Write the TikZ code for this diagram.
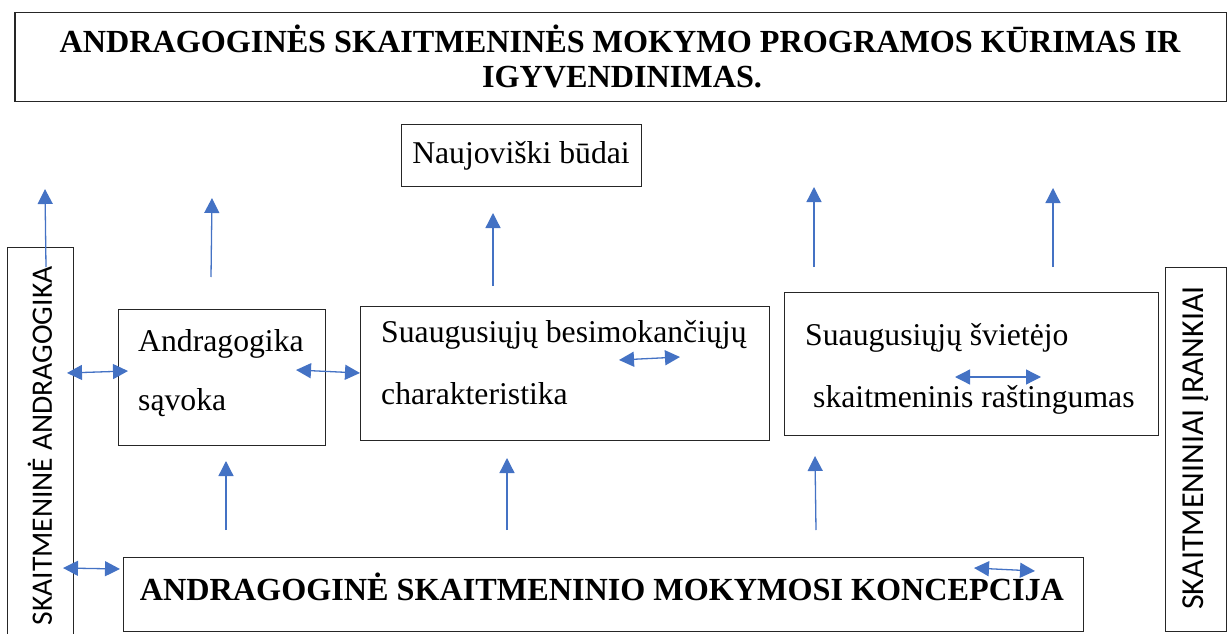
\documentclass[tikz,border=0pt]{standalone}
\usepackage{fontspec}
\setmainfont{Liberation Serif}
\newfontfamily\calib{Carlito}
\usetikzlibrary{arrows.meta}
\definecolor{arrowblue}{RGB}{68,114,196}
\begin{document}
\begin{tikzpicture}[x=1pt,y=-1pt,
  frame/.style={draw=black!85,line width=1.2pt,inner sep=0pt,anchor=north west},
  txt/.style={font=\fontsize{31.7}{36}\selectfont,inner sep=0pt,anchor=base west},
  btxt/.style={font=\fontsize{32.2}{36}\selectfont\bfseries,inner sep=0pt,anchor=base},
  vtxt/.style={font=\calib\fontsize{29.6}{36}\selectfont,inner sep=0pt,rotate=90},
  vtxtr/.style={font=\calib\fontsize{32}{36}\selectfont,inner sep=0pt,rotate=90},
  uparrow/.style={draw=arrowblue,line width=1.3pt,-{Triangle[length=15pt,width=15pt]}},
  biarrow/.style={draw=arrowblue,line width=1.3pt,{Triangle[length=15pt,width=15pt]}-{Triangle[length=15pt,width=15pt]}}]
\useasboundingbox (0,0) rectangle (1227,634);

% boxes
\node[frame,line width=1.5pt,minimum width=1212pt,minimum height=89pt] (title) at (14,12) {};
\node[btxt] (title1) at (620,53) {ANDRAGOGINĖS SKAITMENINĖS MOKYMO PROGRAMOS KŪRIMAS IR};
\node[btxt] (title2) at (622,88) {IGYVENDINIMAS.};

\node[frame,minimum width=240pt,minimum height=62pt] (nb) at (401,124) {};
\node[txt,anchor=base] (nbt) at (521,163) {Naujoviški būdai};

\node[frame,minimum width=66pt,minimum height=420pt] (lbox) at (7,247) {};
\node[vtxt] (lboxt) at (40,446) {SKAITMENINĖ ANDRAGOGIKA};

\node[frame,minimum width=207pt,minimum height=136pt] (ab) at (118,309) {};
\node[txt] (ab1) at (138,351) {Andragogika};
\node[txt] (ab2) at (138,410) {sąvoka};

\node[frame,minimum width=409pt,minimum height=134pt] (sb) at (360,306) {};
\node[txt] (sb1) at (381,342) {Suaugusiųjų besimokančiųjų};
\node[txt] (sb2) at (381,404) {charakteristika};

\node[frame,minimum width=374pt,minimum height=143pt] (svb) at (784,292) {};
\node[txt] (svb1) at (805,345) {Suaugusiųjų švietėjo};
\node[txt] (svb2) at (813,407) {skaitmeninis raštingumas};

\node[frame,minimum width=61pt,minimum height=364pt] (rbox) at (1165,267) {};
\node[vtxtr] (rboxt) at (1196,448) {SKAITMENINIAI ĮRANKIAI};

\node[frame,minimum width=960pt,minimum height=74pt] (bb) at (123,557) {};
\node[btxt] (bbt) at (602,600) {ANDRAGOGINĖ SKAITMENINIO MOKYMOSI KONCEPCIJA};

% up arrows (top row)
\coordinate (u1s) at (46,267); \coordinate (u1e) at (45,189);
\coordinate (u2s) at (211,277); \coordinate (u2e) at (212,198);
\coordinate (u3s) at (493,286); \coordinate (u3e) at (493,213);
\coordinate (u4s) at (814,267); \coordinate (u4e) at (814,187);
\coordinate (u5s) at (1053,267); \coordinate (u5e) at (1053,188);
\draw[uparrow] (u1s) -- (u1e);
\draw[uparrow] (u2s) -- (u2e);
\draw[uparrow] (u3s) -- (u3e);
\draw[uparrow] (u4s) -- (u4e);
\draw[uparrow] (u5s) -- (u5e);

% up arrows (bottom row)
\coordinate (d1s) at (226,530); \coordinate (d1e) at (226,461);
\coordinate (d2s) at (507,530); \coordinate (d2e) at (507,458);
\coordinate (d3s) at (816,530); \coordinate (d3e) at (815,456);
\draw[uparrow] (d1s) -- (d1e);
\draw[uparrow] (d2s) -- (d2e);
\draw[uparrow] (d3s) -- (d3e);

% double arrows
\coordinate (ha1) at (67,373); \coordinate (ha2) at (128,371);
\coordinate (hb1) at (296,370); \coordinate (hb2) at (360,373);
\coordinate (hc1) at (619,360); \coordinate (hc2) at (680,357);
\coordinate (hd1) at (955,377); \coordinate (hd2) at (1041,377);
\coordinate (he1) at (63,568); \coordinate (he2) at (120,569);
\coordinate (hf1) at (974,568); \coordinate (hf2) at (1035,571);
\draw[biarrow] (ha1) -- (ha2);
\draw[biarrow] (hb1) -- (hb2);
\draw[biarrow] (hc1) -- (hc2);
\draw[biarrow] (hd1) -- (hd2);
\draw[biarrow] (he1) -- (he2);
\draw[biarrow] (hf1) -- (hf2);
\end{tikzpicture}
\end{document}
